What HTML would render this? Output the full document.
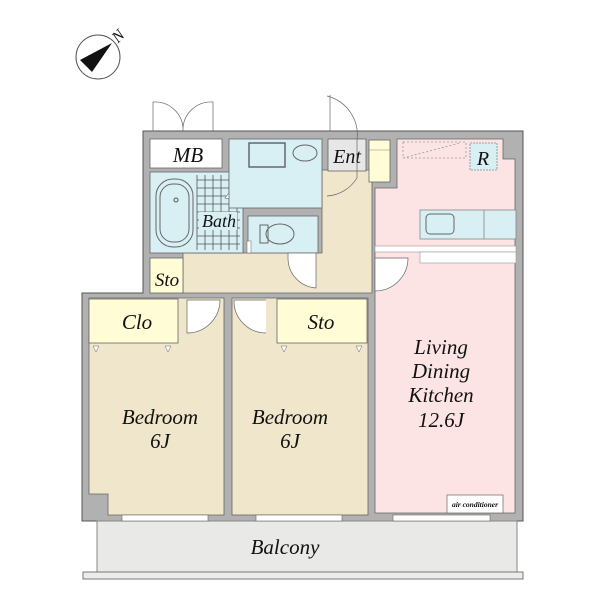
<!DOCTYPE html>
<html><head><meta charset="utf-8"><style>
html,body{margin:0;padding:0;background:#fff}
svg{display:block}
text{font-family:"Liberation Serif",serif;font-style:italic;fill:#111}
</style></head><body>
<svg width="600" height="600" viewBox="0 0 600 600" xmlns="http://www.w3.org/2000/svg">
<!-- compass -->
<circle cx="98" cy="57" r="22" fill="#fff" stroke="#555" stroke-width="1"/>
<polygon points="112,43 80,60 92,72" fill="#111"/>
<text x="112" y="41" font-size="16" font-style="normal" transform="rotate(-45 118 35)">N</text>

<!-- outer wall mass -->
<path d="M143,131 H523 V521 H82 V293 H143 Z" fill="#b1b1b1" stroke="#555" stroke-width="1"/>

<!-- balcony -->
<rect x="97" y="521" width="420" height="51" fill="#e9e9e7" stroke="#888" stroke-width="1"/>
<rect x="83" y="572" width="440" height="7" fill="#ececea" stroke="#777" stroke-width="1"/>
<text x="285" y="554" font-size="21" text-anchor="middle">Balcony</text>

<!-- hallway -->
<path d="M322,170 H372 V293 H183 V253 H322 Z" fill="#f0e6cb" stroke="#666" stroke-width="0.8"/>
<!-- MB -->
<rect x="150" y="139" width="72" height="29" fill="#fff" stroke="#666" stroke-width="0.8"/>
<text x="188" y="162" font-size="21" text-anchor="middle">MB</text>
<!-- bath -->
<rect x="150" y="172" width="93" height="81" fill="#d8eff4" stroke="#666" stroke-width="0.8"/>
<g stroke="#555" stroke-width="0.8">
<path d="M197,175 V250 M205,175 V250 M213,175 V250 M221,175 V250 M229,175 V250 M237,175 V250 M197,180 H240 M197,188 H240 M197,196 H240 M197,204 H240 M197,212 H240 M197,220 H240 M197,228 H240 M197,236 H240 M197,244 H240"/>
</g>
<rect x="155" y="175" width="40" height="75" fill="#d8eff4" stroke="none"/>
<rect x="156" y="179" width="37" height="68" rx="17" fill="none" stroke="#666"/>
<rect x="160" y="184" width="29" height="58" rx="13" fill="none" stroke="#666"/>
<circle cx="176" cy="200" r="2" fill="none" stroke="#555"/>
<rect x="199" y="212" width="38" height="18" fill="#d8eff4"/>
<text x="219" y="227" font-size="18" text-anchor="middle">Bath</text>
<path d="M243,175 L225,198 L243,202 Z" fill="#fff" stroke="#666" stroke-width="0.6"/>
<!-- washroom -->
<rect x="229" y="139" width="93" height="69" fill="#d8eff4" stroke="#666" stroke-width="0.8"/>
<rect x="249" y="143" width="36" height="24" fill="none" stroke="#667" stroke-width="1.5"/>
<ellipse cx="305" cy="153" rx="12" ry="8" fill="none" stroke="#666"/>
<!-- toilet -->
<rect x="248" y="216" width="70" height="37" fill="#d8eff4" stroke="#666" stroke-width="0.8"/>
<rect x="260" y="225" width="8" height="18" fill="none" stroke="#666"/>
<ellipse cx="280" cy="234" rx="14" ry="10" fill="none" stroke="#666"/>
<rect x="247" y="241" width="4" height="12" fill="#fff" stroke="#666" stroke-width="0.5"/>
<!-- Ent -->
<rect x="328" y="139" width="38" height="32" fill="#e7e7e7" stroke="#666" stroke-width="0.8"/>
<text x="347" y="163" font-size="20" text-anchor="middle">Ent</text>
<rect x="369" y="140" width="21" height="42" fill="#fffcd6" stroke="#666" stroke-width="0.8"/>
<line x1="369" y1="150" x2="390" y2="150" stroke="#888" stroke-width="0.6"/>
<!-- Sto small -->
<rect x="150" y="258" width="33" height="35" fill="#fffcd6" stroke="#666" stroke-width="0.8"/>
<text x="167" y="286" font-size="19" text-anchor="middle">Sto</text>

<!-- LDK -->
<path d="M397,139 H503 V159 H515 V513 H375 V188 H397 Z" fill="#fde4e4" stroke="#666" stroke-width="0.8"/>
<path d="M403,142 H466 V158 H403 Z M403,158 L460,143" fill="none" stroke="#999" stroke-dasharray="2,2" stroke-width="0.8"/>
<rect x="470" y="143" width="27" height="27" fill="#d8eff4" stroke="#888" stroke-dasharray="2,1" stroke-width="0.8"/>
<text x="483" y="165" font-size="20" text-anchor="middle">R</text>
<rect x="420" y="210" width="96" height="29" fill="#d8eff4" stroke="#888" stroke-width="0.8"/>
<line x1="484" y1="210" x2="484" y2="239" stroke="#999"/>
<rect x="426" y="214" width="28" height="20" rx="4" fill="none" stroke="#666"/>
<rect x="375" y="246" width="141" height="6" fill="#fff" stroke="#999" stroke-width="0.6"/>
<rect x="420" y="252" width="96" height="11" fill="#fff" stroke="#999" stroke-width="0.6"/>
<path d="M375,258 H408 A33,33 0 0 1 375,291 Z" fill="#fff" stroke="#666" stroke-width="0.7"/>
<text x="441" y="354" font-size="21" text-anchor="middle">Living</text>
<text x="441" y="378" font-size="21" text-anchor="middle">Dining</text>
<text x="441" y="402" font-size="21" text-anchor="middle">Kitchen</text>
<text x="441" y="427" font-size="21" text-anchor="middle">12.6J</text>
<rect x="447" y="495" width="56" height="18" fill="#fff" stroke="#666" stroke-width="0.7"/>
<text x="475" y="507" font-size="7.5" font-weight="bold" text-anchor="middle">air conditioner</text>

<!-- Bedroom left -->
<path d="M89,298 H224 V515 H108 V494 H89 Z" fill="#f0e6cb" stroke="#666" stroke-width="0.8"/>
<rect x="89" y="299" width="89" height="44" fill="#fffcd6" stroke="#666" stroke-width="0.8"/>
<text x="137" y="329" font-size="21" text-anchor="middle">Clo</text>
<polygon points="93,346 99,346 96,352" fill="#fff" stroke="#666" stroke-width="0.5"/>
<polygon points="165,346 171,346 168,352" fill="#fff" stroke="#666" stroke-width="0.5"/>
<text x="160" y="424" font-size="21" text-anchor="middle">Bedroom</text>
<text x="160" y="448" font-size="21" text-anchor="middle">6J</text>
<!-- Bedroom right -->
<rect x="232" y="298" width="136" height="217" fill="#f0e6cb" stroke="#666" stroke-width="0.8"/>
<rect x="277" y="299" width="90" height="44" fill="#fffcd6" stroke="#666" stroke-width="0.8"/>
<text x="321" y="329" font-size="21" text-anchor="middle">Sto</text>
<polygon points="281,346 287,346 284,352" fill="#fff" stroke="#666" stroke-width="0.5"/>
<polygon points="356,346 362,346 359,352" fill="#fff" stroke="#666" stroke-width="0.5"/>
<text x="290" y="424" font-size="21" text-anchor="middle">Bedroom</text>
<text x="290" y="448" font-size="21" text-anchor="middle">6J</text>

<!-- bedroom doors -->
<path d="M187,300 H220 A33,33 0 0 1 187,333 Z" fill="#fff" stroke="#666" stroke-width="0.7"/>
<path d="M266,300 H234 A32,32 0 0 0 266,333" fill="#fff" stroke="#666" stroke-width="0.7"/>
<!-- toilet door -->
<path d="M288,253 H316 V288 A30,30 0 0 1 288,258 Z" fill="#fff" stroke="#666" stroke-width="0.7"/>
<!-- entrance door -->
<path d="M327,96 A40,40 0 0 1 357,140 V178 A38,38 0 0 1 327,196" fill="none" stroke="#666" stroke-width="0.7"/>
<path d="M330,95 V131" stroke="#666" stroke-width="0.7"/>
<!-- MB doors -->
<path d="M153,131 V102 A28,28 0 0 1 183,131 M213,131 V102 A28,28 0 0 0 183,131" fill="none" stroke="#666" stroke-width="0.7"/>

<!-- windows -->
<g fill="#fff" stroke="#666" stroke-width="0.6">
<rect x="122" y="515" width="86" height="6"/>
<rect x="256" y="515" width="86" height="6"/>
<rect x="393" y="515" width="97" height="6"/>
</g>
</svg>
</body></html>
